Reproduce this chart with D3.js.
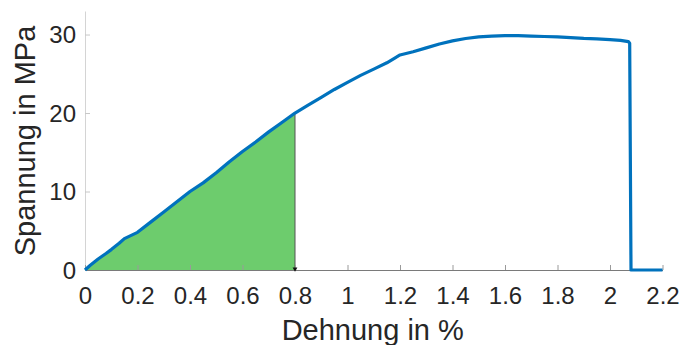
<!DOCTYPE html>
<html>
<head>
<meta charset="utf-8">
<script src="https://cdn.jsdelivr.net/npm/d3@7"></script>
<style>
  html, body { margin: 0; padding: 0; background: #fff; }
  svg text { font-family: "Liberation Sans", Arial, Helvetica, sans-serif; fill: #262626; }
</style>
</head>
<body>
<svg id="chart" width="682" height="345"></svg>
<script>
// Stress-strain curve of the tensile test
const strain = [0, 0.02, 0.05, 0.08, 0.1, 0.13, 0.15, 0.2, 0.25, 0.3, 0.35, 0.4, 0.45, 0.5, 0.55, 0.6, 0.65, 0.7, 0.75, 0.8,
                0.85, 0.9, 0.95, 1.0, 1.05, 1.1, 1.15, 1.18, 1.2, 1.25, 1.3, 1.35, 1.4, 1.45, 1.5, 1.55, 1.6, 1.65, 1.7,
                1.75, 1.8, 1.85, 1.9, 1.95, 2.0, 2.04, 2.07, 2.075, 2.08, 2.2];
const stress = [0, 0.6, 1.4, 2.1, 2.6, 3.4, 4.0, 4.8, 6.1, 7.4, 8.7, 10.0, 11.1, 12.4, 13.8, 15.1, 16.3, 17.6, 18.8, 20.0,
                21.0, 22.0, 23.0, 23.9, 24.8, 25.6, 26.4, 27.0, 27.4, 27.8, 28.3, 28.8, 29.2, 29.5, 29.7, 29.8, 29.85, 29.85, 29.8,
                29.75, 29.7, 29.6, 29.5, 29.45, 29.35, 29.25, 29.1, 28.9, 0, 0];
// Upper strain limit of the shaded (elastic) region
const shadeLimit = 0.8;

const xTicks = [0, 0.2, 0.4, 0.6, 0.8, 1, 1.2, 1.4, 1.6, 1.8, 2, 2.2];
const yTicks = [0, 10, 20, 30];
const xLabel = "Dehnung in %";
const yLabel = "Spannung in MPa";

const svg = d3.select("#chart");
const mLeft = 85, mRight = 662.5, mTop = 11, mBottom = 270;

const x = d3.scaleLinear().domain([0, 2.2]).range([mLeft, mRight]);
const y = d3.scaleLinear().domain([0, 33]).range([mBottom, mTop]);

const pts = strain.map((s, i) => ({ s, v: stress[i] }));

// shaded area below the curve up to the limit strain
const shaded = pts.filter(d => d.s <= shadeLimit);
svg.append("path")
  .datum(shaded)
  .attr("fill", "#6dcc6d")
  .attr("d", d3.area().x(d => x(d.s)).y0(y(0)).y1(d => y(d.v)));
svg.append("line")
  .attr("x1", x(shadeLimit)).attr("x2", x(shadeLimit))
  .attr("y1", y(0)).attr("y2", y(stress[strain.indexOf(shadeLimit)]))
  .attr("stroke", "#555").attr("stroke-width", 1);

// y axis (light, ticks pointing inward)
const yAxis = svg.append("g")
  .attr("transform", `translate(${mLeft},0)`)
  .call(d3.axisLeft(y).tickValues(yTicks).tickSize(-5).tickSizeOuter(0).tickPadding(9).tickFormat(d3.format("d")));
yAxis.select(".domain").attr("stroke", "#d4d4d4");
yAxis.selectAll(".tick line").attr("stroke", "#c8c8c8");
yAxis.selectAll(".tick text").attr("font-size", 24).attr("fill", "#262626").attr("dy", "0.34em")
  .attr("font-family", "Liberation Sans, Arial, sans-serif");

// x axis (ticks pointing inward)
const xAxis = svg.append("g")
  .attr("transform", `translate(0,${mBottom})`)
  .call(d3.axisBottom(x).tickValues(xTicks).tickSize(-5).tickSizeOuter(0).tickPadding(17).tickFormat(d => String(d)));
xAxis.select(".domain").attr("stroke", "#7a7a7a");
xAxis.selectAll(".tick line").attr("stroke", "#9a9a9a");
xAxis.selectAll(".tick text").attr("font-size", 24).attr("fill", "#262626")
  .attr("font-family", "Liberation Sans, Arial, sans-serif");

// marker at the foot of the shaded region
svg.append("path")
  .attr("d", d3.symbol(d3.symbolTriangle, 10)())
  .attr("transform", `translate(${x(shadeLimit)},${y(0) - 1}) rotate(180)`)
  .attr("fill", "#111");

// curve
svg.append("path")
  .datum(pts)
  .attr("fill", "none")
  .attr("stroke", "#0072bd")
  .attr("stroke-width", 3.2)
  .attr("stroke-linejoin", "round")
  .attr("d", d3.line().x(d => x(d.s)).y(d => y(d.v)));

// axis titles
svg.append("text")
  .attr("x", (mLeft + mRight) / 2 - 1).attr("y", 340)
  .attr("text-anchor", "middle").attr("font-size", 29)
  .text(xLabel);
svg.append("text")
  .attr("transform", `translate(35,141) rotate(-90)`)
  .attr("text-anchor", "middle").attr("font-size", 29)
  .text(yLabel);
</script>
</body>
</html>
